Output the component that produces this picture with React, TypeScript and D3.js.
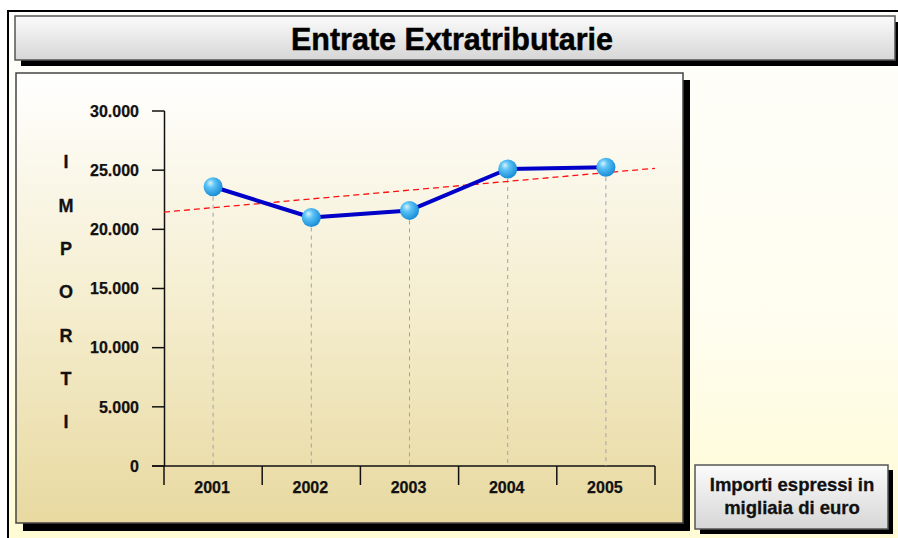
import React from "react";
import * as d3 from "d3";

const title = "Entrate Extratributarie";
const years = ["2001", "2002", "2003", "2004", "2005"];
const values = [23600, 21000, 21600, 25100, 25250];
const yTicks = [0, 5000, 10000, 15000, 20000, 25000, 30000];
const yTitle = ["I", "M", "P", "O", "R", "T", "I"];
const noteLines = ["Importi espressi in", "migliaia di euro"];

const W = 898;
const H = 538;
const FONT = "'Liberation Sans', Arial, sans-serif";

export default function App() {
  const x = d3.scaleBand<string>().domain(years).range([164, 655]).paddingInner(0).paddingOuter(0);
  const y = d3.scaleLinear().domain([0, 30000]).range([466, 111]);
  const cx = (d: string) => (x(d) as number) + x.bandwidth() / 2;

  // linear regression trend line
  const n = values.length;
  const idx = values.map((_, i) => i + 1);
  const mx = d3.mean(idx) as number;
  const my = d3.mean(values) as number;
  const slope =
    (d3.sum(idx.map((xi, i) => (xi - mx) * (values[i] - my))) as number) /
    (d3.sum(idx.map((xi) => (xi - mx) * (xi - mx))) as number);
  const trendAt = (t: number) => my + slope * (t - mx);
  const tx = d3.scaleLinear().domain([0.5, n + 0.5]).range([164, 655]);

  const line = d3
    .line<number>()
    .x((_, i) => cx(years[i]))
    .y((v) => y(v));

  const fmt = (v: number) => (v === 0 ? "0" : d3.format(",")(v).replace(/,/g, "."));

  return (
    <svg
      width={W}
      height={H}
      style={{ position: "absolute", left: 0, top: 0, display: "block" }}
      fontFamily={FONT}
    >
      <defs>
        <linearGradient id="bgGrad" x1="0" y1="0" x2="0" y2="1">
          <stop offset="0" stopColor="#fefefb" />
          <stop offset="0.6" stopColor="#fffdee" />
          <stop offset="1" stopColor="#fffbd2" />
        </linearGradient>
        <linearGradient id="boxGrad" x1="0" y1="0" x2="0" y2="1">
          <stop offset="0" stopColor="#fbfbfb" />
          <stop offset="1" stopColor="#d6d6d6" />
        </linearGradient>
        <linearGradient id="plotGrad" x1="0" y1="0" x2="0" y2="1">
          <stop offset="0" stopColor="#ffffff" />
          <stop offset="0.5" stopColor="#f5eed0" />
          <stop offset="1" stopColor="#e8d9a0" />
        </linearGradient>
        <radialGradient id="ball" cx="0.4" cy="0.38" r="0.65" fx="0.35" fy="0.3">
          <stop offset="0" stopColor="#d6f2ff" />
          <stop offset="0.35" stopColor="#5cc3f5" />
          <stop offset="1" stopColor="#148ad6" />
        </radialGradient>
      </defs>

      {/* outer background + frame */}
      <rect x={0} y={0} width={W} height={H} fill="#ffffff" />
      <rect x={8} y={11} width={W} height={H} fill="url(#bgGrad)" stroke="#000" strokeWidth={2} />

      {/* title box */}
      <rect x={21} y={22} width={880} height={44} fill="#000" />
      <rect x={15} y={16} width={880} height={44} fill="url(#boxGrad)" stroke="#555" strokeWidth={1.5} />
      <text
        x={452}
        y={50}
        textAnchor="middle"
        fontSize={31}
        fontWeight="bold"
        textLength={322}
        lengthAdjust="spacingAndGlyphs"
        fill="#000"
        stroke="#000"
        strokeWidth={0.5}
      >
        {title}
      </text>

      {/* plot panel */}
      <rect x={23} y={80} width={667} height={451} fill="#000" />
      <rect x={16} y={73} width={667} height={450} fill="url(#plotGrad)" stroke="#444" strokeWidth={1.5} />

      {/* y axis title */}
      {yTitle.map((c, i) => (
        <text
          key={"yt" + i}
          x={66}
          y={162 + i * 43.3}
          dy="0.36em"
          textAnchor="middle"
          fontSize={18}
          fontWeight="bold"
          fill="#111"
          stroke="#111"
          strokeWidth={0.3}
        >
          {c}
        </text>
      ))}

      {/* y axis */}
      <line x1={164.5} x2={164.5} y1={y(30000)} y2={y(0)} stroke="#111" strokeWidth={1.5} />
      {yTicks.map((t) => (
        <g key={"yk" + t}>
          <line x1={152} x2={164.5} y1={y(t)} y2={y(t)} stroke="#111" strokeWidth={1.5} />
          <text
            x={139}
            y={y(t)}
            dy="0.36em"
            textAnchor="end"
            fontSize={16}
            fontWeight="bold"
            fill="#111"
            stroke="#111"
            strokeWidth={0.25}
          >
            {fmt(t)}
          </text>
        </g>
      ))}

      {/* x axis */}
      <line x1={152} x2={655} y1={y(0)} y2={y(0)} stroke="#111" strokeWidth={1.5} />
      {[...years.map((d) => x(d) as number), 655].map((p, i) => (
        <line key={"xk" + i} x1={p} x2={p} y1={y(0)} y2={485} stroke="#111" strokeWidth={1.5} />
      ))}
      {years.map((d) => (
        <text
          key={"xl" + d}
          x={cx(d) - 1}
          y={493}
          textAnchor="middle"
          fontSize={16}
          fontWeight="bold"
          fill="#111"
          stroke="#111"
          strokeWidth={0.25}
        >
          {d}
        </text>
      ))}

      {/* drop lines */}
      {years.map((d, i) => (
        <line
          key={"dl" + d}
          x1={cx(d)}
          x2={cx(d)}
          y1={y(values[i]) + 10}
          y2={y(0)}
          stroke="#a0a0b0"
          strokeWidth={1}
          strokeDasharray="4,4"
        />
      ))}

      {/* trend line */}
      <line
        x1={tx(0.5)}
        x2={tx(n + 0.5)}
        y1={y(trendAt(0.5))}
        y2={y(trendAt(n + 0.5))}
        stroke="#ff1010"
        strokeWidth={1.3}
        strokeDasharray="6,4"
      />

      {/* series line */}
      <path d={line(values) as string} fill="none" stroke="#0000c8" strokeWidth={4} strokeLinejoin="round" />

      {/* markers */}
      {years.map((d, i) => (
        <circle key={"m" + d} cx={cx(d)} cy={y(values[i])} r={9.5} fill="url(#ball)" />
      ))}

      {/* note box */}
      <rect x={700} y={470} width={193} height={64} fill="#000" />
      <rect x={695} y={465} width={193} height={64} fill="url(#boxGrad)" stroke="#555" strokeWidth={1.5} />
      {noteLines.map((s, i) => (
        <text
          key={"n" + i}
          x={792}
          y={491 + i * 23}
          textAnchor="middle"
          fontSize={18.5}
          fontWeight="bold"
          fill="#111"
          stroke="#111"
          strokeWidth={0.3}
        >
          {s}
        </text>
      ))}
    </svg>
  );
}
